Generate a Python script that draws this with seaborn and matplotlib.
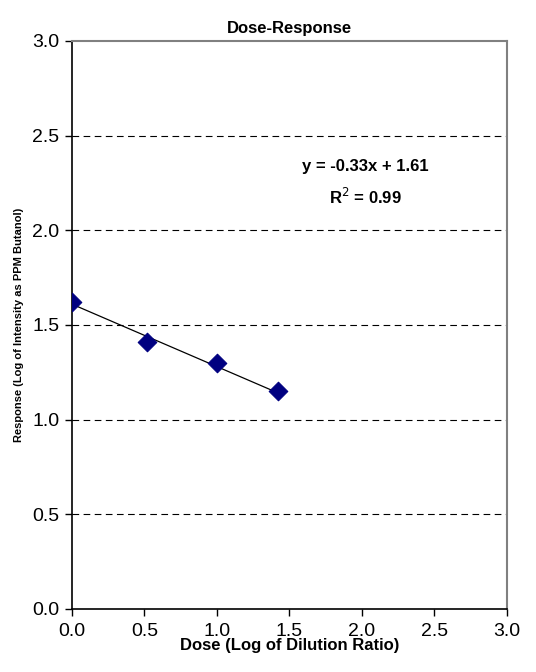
import numpy as np
import matplotlib
matplotlib.use("Agg")
import matplotlib.pyplot as plt
import seaborn as sns
import pandas as pd

dose = [0.0, 0.52, 1.0, 1.42]
response = [1.62, 1.41, 1.30, 1.15]
slope = -0.33
intercept = 1.61
r_squared = 0.99
ticks = [0.0, 0.5, 1.0, 1.5, 2.0, 2.5, 3.0]

sns.set_style("white")
plt.rcParams['font.family'] = ['Liberation Sans', 'DejaVu Sans']
plt.rcParams['text.color'] = 'black'
plt.rcParams['axes.labelcolor'] = 'black'
plt.rcParams['xtick.color'] = 'black'
plt.rcParams['ytick.color'] = 'black'

df = pd.DataFrame({"dose": dose, "response": response})

fig = plt.figure(figsize=(5.36, 6.72), dpi=100)
ax = fig.add_axes([0.1343, 0.0938, 0.8116, 0.8452])

for t in ticks[1:-1]:
    ax.axhline(t, color="black", linestyle=(0, (6, 4)), linewidth=0.8, zorder=1)

xfit = np.array([min(dose), max(dose)])
ax.plot(xfit, slope * xfit + intercept, color="black", linewidth=0.9, zorder=2)

sns.scatterplot(data=df, x="dose", y="response", marker="D", s=90,
                color="#000080", edgecolor="#000080", ax=ax, zorder=3)

ax.set_xlim(0, 3)
ax.set_ylim(0, 3)
ax.set_xticks(ticks)
ax.set_yticks(ticks)
ax.set_xticklabels([f"{t:.1f}" for t in ticks], fontsize=14)
ax.set_yticklabels([f"{t:.1f}" for t in ticks], fontsize=14)
ax.tick_params(axis="x", direction="out", length=5, width=1, bottom=True, pad=5)
ax.tick_params(axis="y", direction="out", length=5, width=1, left=True, pad=4)

for side in ["left", "bottom"]:
    ax.spines[side].set_color("black")
    ax.spines[side].set_linewidth(1.2)
for side in ["top", "right"]:
    ax.spines[side].set_color("#808080")
    ax.spines[side].set_linewidth(1.5)

ax.set_title("Dose-Response", fontsize=12, fontweight="bold", pad=6)
ax.set_xlabel("Dose (Log of Dilution Ratio)", fontsize=12, fontweight="bold", labelpad=-1)
ax.set_ylabel("Response (Log of Intensity as PPM Butanol)", fontsize=8, fontweight="bold", labelpad=6)

ax.text(2.02, 2.335, f"y = {slope:.2f}x + {intercept:.2f}", fontsize=12, fontweight="bold",
        ha="center", va="center")
ax.text(2.02, 2.175, f"R$^{{2}}$ = {r_squared:.2f}", fontsize=12, fontweight="bold",
        ha="center", va="center")

fig.savefig("out.png", dpi=100)
